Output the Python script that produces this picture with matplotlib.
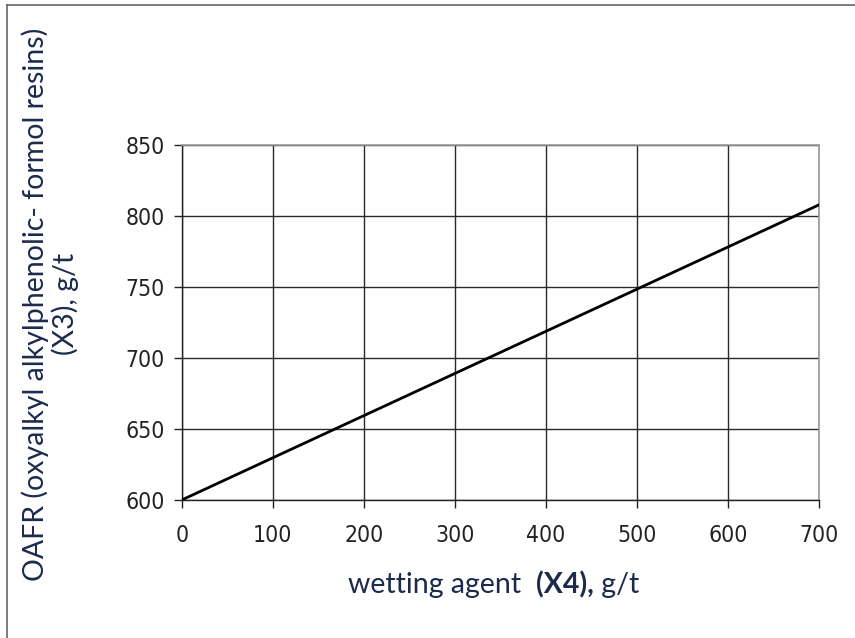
import matplotlib
matplotlib.use("Agg")
import matplotlib.pyplot as plt
from matplotlib.lines import Line2D
from matplotlib import font_manager as fm

# Data
x_vals = [0, 700]
y_vals = [600, 808]
x_ticks = [0, 100, 200, 300, 400, 500, 600, 700]
y_ticks = [600, 650, 700, 750, 800, 850]
xlabel_parts = ["wetting agent  ", "(X4),", " g/t"]
ylabel = "OAFR (oxyalkyl alkylphenolic- formol resins)\n(X3), g/t"

# pick a condensed font for tick labels if one is installed
def pick_condensed():
    prefs = ["liberation sans narrow", "dejavu sans condensed", "roboto condensed",
             "open sans condensed", "noto sans condensed"]
    cands = []
    for f in fm.fontManager.ttflist:
        nm = f.name.lower()
        fn = f.fname.lower()
        if "bold" in fn or "italic" in fn or "oblique" in fn:
            continue
        if ("narrow" in nm or "condensed" in nm or "narrow" in fn or "condensed" in fn
                or str(f.stretch) in ("condensed", "semi-condensed", "extra-condensed")):
            if "mono" in fn or "serif" in nm and "sans" not in nm:
                continue
            cands.append(f)
    for p in prefs:
        for f in cands:
            if p.replace(" ", "") in (f.name + f.fname).lower().replace(" ", "").replace("-", ""):
                return fm.FontProperties(fname=f.fname)
    if cands:
        return fm.FontProperties(fname=cands[0].fname)
    return fm.FontProperties(family="DejaVu Sans")

tick_fp = pick_condensed()
tick_fp.set_size(16.5)

W, H = 855, 638
fig = plt.figure(figsize=(W / 100, H / 100), dpi=100)
ax = fig.add_axes([181.7 / W, 1 - 500 / H, (819.4 - 181.7) / W, (500 - 145) / H])

ax.plot(x_vals, y_vals, color="black", lw=2.0, solid_capstyle="butt", zorder=3)
ax.set_xlim(0, 700)
ax.set_ylim(600, 850)
ax.set_xticks(x_ticks)
ax.set_yticks(y_ticks)
ax.grid(True, color="#2a2a2a", lw=1.0)
ax.set_axisbelow(True)

for lab in ax.get_xticklabels() + ax.get_yticklabels():
    lab.set_fontproperties(tick_fp)
    lab.set_color("#222222")
ax.tick_params(axis="both", direction="out", length=6, width=1.0, color="#222222")
ax.tick_params(axis="x", pad=11)
ax.tick_params(axis="y", pad=6)

for s in ["left", "bottom"]:
    ax.spines[s].set_color("#222222")
    ax.spines[s].set_linewidth(1.0)
for s in ["top", "right"]:
    ax.spines[s].set_color("#9a9a9a")
    ax.spines[s].set_linewidth(1.2)

navy = "#1c2b4c"
lab_font = ["Lato", "DejaVu Sans"]
fs = 20.5
t1 = fig.text(348 / W, 1 - 585 / H, xlabel_parts[0], fontfamily=lab_font, fontsize=fs,
              color=navy, ha="left", va="center")
fig.canvas.draw()
r = fig.canvas.get_renderer()
bb = t1.get_window_extent(r)
t2 = fig.text(bb.x1 / W, 1 - 585 / H, xlabel_parts[1], fontfamily=lab_font, fontsize=fs,
              fontweight="bold", color=navy, ha="left", va="center")
bb2 = t2.get_window_extent(r)
t3 = fig.text(bb2.x1 / W, 1 - 585 / H, xlabel_parts[2], fontfamily=lab_font, fontsize=fs,
              color=navy, ha="left", va="center")

fig.text(50 / W, 1 - 304 / H, ylabel, fontfamily=lab_font, fontsize=fs, color=navy,
         rotation=90, ha="center", va="center", multialignment="center", linespacing=1.1)

# figure border (top and left)
fig.add_artist(Line2D([7 / W, 7 / W], [1 - 5 / H, 0], transform=fig.transFigure,
                      color="#666666", lw=1.2))
fig.add_artist(Line2D([7 / W, 1], [1 - 5 / H, 1 - 5 / H], transform=fig.transFigure,
                      color="#666666", lw=1.2))

fig.savefig("out.png", dpi=100)
